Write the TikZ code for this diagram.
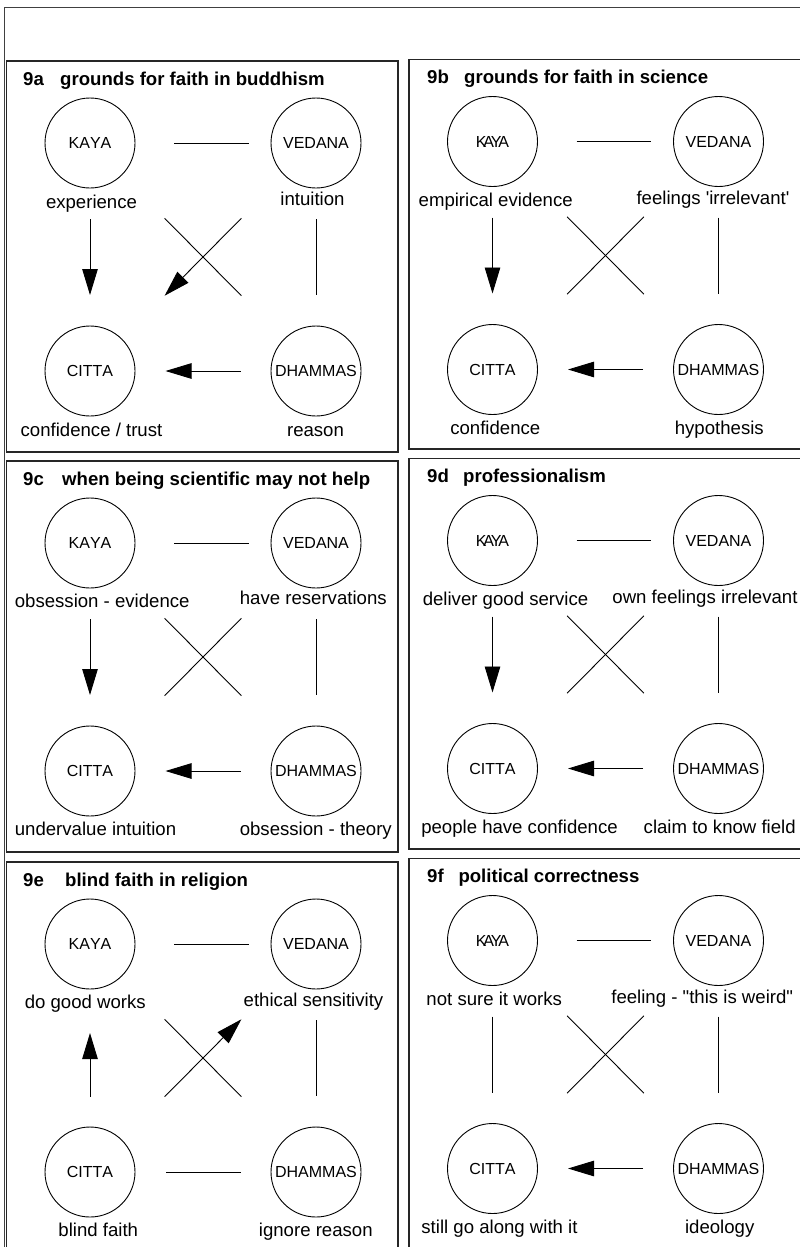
\documentclass[tikz,border=0pt]{standalone}
\usepackage{fontspec}
\setmainfont{Liberation Sans}
\newfontfamily\circlefont[Kerning=Off]{Liberation Sans}
\usetikzlibrary{arrows.meta}

% KAYA set with tight letter spacing
\newcommand\tightkaya{K\kern-3.2pt A\kern-3.2pt Y\kern-3.2pt A}

\tikzset{
  frame/.style={draw=black!75, line width=1.2pt},
  panelbox/.style={draw=black!85, line width=1.1pt},
  aspect/.style={circle, draw=black, line width=0.9pt, minimum size=90pt,
    inner sep=0pt, outer sep=0pt, font=\fontsize{16}{18}\selectfont\circlefont},
  caption/.style={anchor=base, inner sep=0pt, font=\fontsize{18.6}{22}\selectfont},
  heading/.style={anchor=base west, inner sep=0pt, font=\bfseries\fontsize{18.6}{22}\selectfont},
  link/.style={draw=black, line width=0.9pt},
  tip/.style={-{Triangle[length=26pt,width=15.5pt]}},
  across/.style={shorten <=39pt, shorten >=22.5pt},
  upright/.style={shorten <=31pt, shorten >=31pt},
  lower/.style={shorten <=30.5pt, shorten >=30.5pt},
  cross/.style={shorten <=61pt, shorten >=61pt},
}

% the four aspects of a panel and the links every panel shares
\newcommand\aspects[2]{%
  \node[aspect] (#1k) at (83.5,82)  {#2};
  \node[aspect] (#1v) at (309.5,82) {VEDANA};
  \node[aspect] (#1c) at (83.5,310) {CITTA};
  \node[aspect] (#1d) at (309.5,310) {DHAMMAS};
  \draw[link, across] (#1k) -- (#1v);
  \draw[link, upright] (#1v) -- (#1d);
  \draw[link, cross] (#1k) -- (#1d);
}

\begin{document}
\begin{tikzpicture}[x=1pt, y=-1pt]
  \useasboundingbox (0,0) rectangle (800,1247);
  \fill[white] (0,0) rectangle (800,1247);
  \clip (0,0) rectangle (800,1247);

  \draw[frame] (4.5,7.5) rectangle (812,1262);

  % 9a
  \begin{scope}[shift={(6.5,61)}]
    \draw[panelbox] (0,0) rectangle (391.5,391);
    \node[heading] (a-num) at (16.5,24) {9a};
    \node[heading] (a-title) at (53.5,24) {grounds for faith in buddhism};
    \aspects{a-}{KAYA}
    \draw[link, upright, tip] (a-k) -- (a-c);
    \draw[link, cross, tip] (a-v) -- (a-c);
    \draw[link, lower, tip] (a-d) -- (a-c);
    \node[caption] (a-kl) at (85,147.3) {experience};
    \node[caption] (a-vl) at (306,144) {intuition};
    \node[caption] (a-cl) at (85,375.7) {confidence / trust};
    \node[caption] (a-dl) at (309,375.7) {reason};
  \end{scope}

  % 9b
  \begin{scope}[shift={(409,59.5)}]
    \draw[panelbox] (0,0) rectangle (392.5,389.5);
    \node[heading] (b-num) at (18,23.5) {9b};
    \node[heading] (b-title) at (55,23.5) {grounds for faith in science};
    \aspects{b-}{\tightkaya}
    \draw[link, upright, tip] (b-k) -- (b-c);
    \draw[link, cross] (b-v) -- (b-c);
    \draw[link, lower, tip] (b-d) -- (b-c);
    \node[caption] (b-kl) at (86.7,147.2) {empirical evidence};
    \node[caption] (b-vl) at (304,144.5) {feelings \textquotesingle irrelevant\textquotesingle};
    \node[caption] (b-cl) at (86.3,374.5) {confidence};
    \node[caption] (b-dl) at (310.3,374.5) {hypothesis};
  \end{scope}

  % 9c
  \begin{scope}[shift={(6.5,461)}]
    \draw[panelbox] (0,0) rectangle (391.5,391);
    \node[heading] (c-num) at (16.5,24) {9c};
    \node[heading] (c-title) at (55.5,24) {when being scientific may not help};
    \aspects{c-}{KAYA}
    \draw[link, upright, tip] (c-k) -- (c-c);
    \draw[link, cross] (c-v) -- (c-c);
    \draw[link, lower, tip] (c-d) -- (c-c);
    \node[caption] (c-kl) at (95.7,146) {obsession - evidence};
    \node[caption] (c-vl) at (306.8,143.3) {have reservations};
    \node[caption] (c-cl) at (89,374) {undervalue intuition};
    \node[caption] (c-dl) at (309.3,374) {obsession - theory};
  \end{scope}

  % 9d
  \begin{scope}[shift={(409,458.5)}]
    \draw[panelbox] (0,0) rectangle (392.5,390.5);
    \node[heading] (d-num) at (18,23.5) {9d};
    \node[heading] (d-title) at (54,23.5) {professionalism};
    \aspects{d-}{\tightkaya}
    \draw[link, upright, tip] (d-k) -- (d-c);
    \draw[link, cross] (d-v) -- (d-c);
    \draw[link, lower, tip] (d-d) -- (d-c);
    \node[caption] (d-kl) at (96.5,146.5) {deliver good service};
    \node[caption] (d-vl) at (296,144.8) {own feelings irrelevant};
    \node[caption] (d-cl) at (110.5,374.8) {people have confidence};
    \node[caption] (d-dl) at (310.7,374.8) {claim to know field};
  \end{scope}

  % 9e
  \begin{scope}[shift={(6.5,862)}]
    \draw[panelbox] (0,0) rectangle (391.5,410);
    \node[heading] (e-num) at (16.5,24) {9e};
    \node[heading] (e-title) at (58.5,24) {blind faith in religion};
    \aspects{e-}{KAYA}
    \draw[link, shorten <=30.5pt, shorten >=44pt, tip] (e-c) -- (e-k);
    \draw[link, cross, tip] (e-c) -- (e-v);
    \draw[link, lower] (e-d) -- (e-c);
    \node[caption] (e-kl) at (78.8,146.3) {do good works};
    \node[caption] (e-vl) at (307,144.7) {ethical sensitivity};
    \node[caption] (e-cl) at (91.8,374.7) {blind faith};
    \node[caption] (e-dl) at (309.3,374.7) {ignore reason};
  \end{scope}

  % 9f
  \begin{scope}[shift={(409,858.5)}]
    \draw[panelbox] (0,0) rectangle (392.5,410);
    \node[heading] (f-num) at (18,23.5) {9f};
    \node[heading] (f-title) at (49.3,23.5) {political correctness};
    \aspects{f-}{\tightkaya}
    \draw[link, upright] (f-k) -- (f-c);
    \draw[link, cross] (f-v) -- (f-c);
    \draw[link, lower, tip] (f-d) -- (f-c);
    \node[caption] (f-kl) at (85.2,146.5) {not sure it works};
    \node[caption] (f-vl) at (293.2,144.8) {feeling - \textquotedbl this is weird\textquotedbl};
    \node[caption] (f-cl) at (90.5,374.8) {still go along with it};
    \node[caption] (f-dl) at (310.7,374.8) {ideology};
  \end{scope}
\end{tikzpicture}
\end{document}
